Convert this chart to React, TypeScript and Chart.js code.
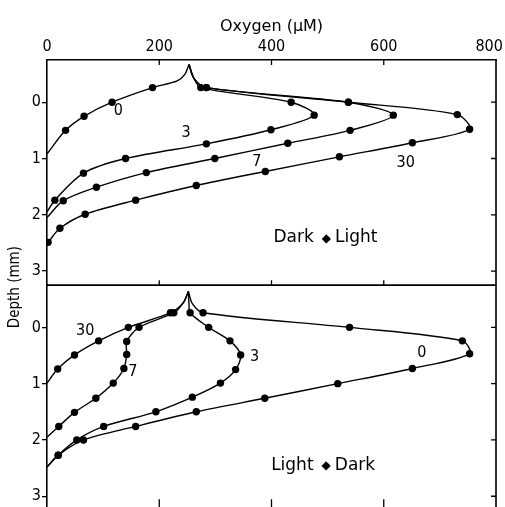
import { useEffect, useRef } from "react";
import { Chart, registerables } from "chart.js";

Chart.register(...registerables);

const NARROW = '"DejaVu Sans Condensed", "DejaVu Sans", sans-serif';
const WIDE = '"DejaVu Sans", sans-serif';

// Axis ticks
const oxygenTicks = [0, 200, 400, 600, 800];
const depthTicks = [0, 1, 2, 3];
const innerOxygenTicks = [200, 400, 600];

// Dark -> Light panel: oxygen (µM) vs depth (mm), minutes after switch
const dl0O2 = [253, 246, 232, 188, 116, 66, 33, 0];
const dl0Depth = [-0.67, -0.5, -0.38, -0.26, 0, 0.25, 0.5, 0.92];
const dl0Dot = [0, 0, 0, 1, 1, 1, 1, 0];

const dl3O2 = [253, 262, 274, 435, 476, 399, 284, 140, 65, 14, 0];
const dl3Depth = [-0.67, -0.42, -0.26, 0, 0.23, 0.49, 0.74, 1.0, 1.26, 1.74, 1.95];
const dl3Dot = [0, 0, 1, 1, 1, 1, 1, 1, 1, 1, 0];

const dl7O2 = [253, 262, 284, 537, 617, 540, 429, 299, 177, 88, 29, 0];
const dl7Depth = [-0.67, -0.42, -0.26, 0, 0.23, 0.5, 0.73, 1.0, 1.25, 1.51, 1.75, 2.05];
const dl7Dot = [0, 0, 1, 1, 1, 1, 1, 1, 1, 1, 1, 0];

const dl30O2 = [253, 262, 284, 537, 731, 753, 651, 521, 389, 266, 158, 68, 23, 2];
const dl30Depth = [-0.67, -0.42, -0.26, 0, 0.22, 0.48, 0.72, 0.97, 1.23, 1.48, 1.74, 1.99, 2.24, 2.49];
const dl30Dot = [0, 0, 1, 1, 1, 1, 1, 1, 1, 1, 1, 1, 1, 1];

// Light -> Dark panel
const ld0O2 = [252, 259, 278, 539, 740, 753, 651, 518, 388, 266, 158, 65, 20, 0];
const ld0Depth = [-0.64, -0.42, -0.26, 0, 0.24, 0.47, 0.73, 1.0, 1.26, 1.5, 1.76, 2.0, 2.27, 2.48];
const ld0Dot = [0, 0, 1, 1, 1, 1, 1, 1, 1, 1, 1, 1, 1, 0];

const ld3O2 = [252, 253, 255, 288, 326, 345, 336, 309, 259, 194, 101, 53, 20, 0];
const ld3Depth = [-0.64, -0.42, -0.26, 0, 0.24, 0.49, 0.75, 0.99, 1.24, 1.5, 1.76, 2.0, 2.27, 2.48];
const ld3Dot = [0, 0, 1, 1, 1, 1, 1, 1, 1, 1, 1, 1, 1, 0];

const ld7O2 = [252, 243, 226, 164, 142, 142, 137, 118, 87, 49, 21, 0];
const ld7Depth = [-0.64, -0.44, -0.26, 0, 0.25, 0.48, 0.73, 0.99, 1.26, 1.51, 1.76, 1.95];
const ld7Dot = [0, 0, 1, 1, 1, 1, 1, 1, 1, 1, 1, 0];

const ld30O2 = [252, 243, 220, 145, 92, 49, 19, 0];
const ld30Depth = [-0.64, -0.44, -0.26, 0, 0.24, 0.49, 0.74, 0.99];
const ld30Dot = [0, 0, 1, 1, 1, 1, 1, 0];

// Curve labels (minutes) placed in data coordinates
const dlLabels = ["0", "3", "7", "30"];
const dlLabelO2 = [127, 248, 374, 639];
const dlLabelDepth = [0.15, 0.55, 1.06, 1.08];
const ldLabels = ["30", "7", "3", "0"];
const ldLabelO2 = [68, 153, 370, 668];
const ldLabelDepth = [0.07, 0.79, 0.53, 0.45];

const panelCaptions = [
  { from: "Dark", to: "Light", o2: 496, depth: 2.41, axis: "yTop" },
  { from: "Light", to: "Dark", o2: 492, depth: 2.45, axis: "yBot" },
];

function series(o2: number[], depth: number[], dots: number[], axis: string) {
  return {
    data: o2.map((x, i) => ({ x, y: depth[i] })),
    yAxisID: axis,
    showLine: true,
    borderColor: "#000",
    borderWidth: 1.4,
    tension: 0.3,
    pointRadius: dots.map((d) => (d ? 3.7 : 0)),
    pointHoverRadius: 0,
    pointBackgroundColor: "#000",
    pointBorderWidth: 0,
  };
}

const framePlugin = {
  id: "frame",
  afterDraw(chart: any) {
    const { ctx, chartArea, scales } = chart;
    const x = scales.x;
    const yTop = scales.yTop;
    const yBot = scales.yBot;
    ctx.save();
    ctx.strokeStyle = "#000";
    ctx.lineWidth = 1.6;
    ctx.beginPath();
    // right edge, separator and bottom edge
    ctx.moveTo(chartArea.right, chartArea.top);
    ctx.lineTo(chartArea.right, chartArea.bottom);
    ctx.moveTo(chartArea.left, yTop.bottom);
    ctx.lineTo(chartArea.right, yTop.bottom);
    ctx.moveTo(chartArea.left, chartArea.bottom);
    ctx.lineTo(chartArea.right, chartArea.bottom);
    ctx.stroke();

    ctx.lineWidth = 1.3;
    ctx.beginPath();
    const t = 5;
    for (const v of innerOxygenTicks) {
      const px = x.getPixelForValue(v);
      ctx.moveTo(px, yTop.top);
      ctx.lineTo(px, yTop.top + t);
      ctx.moveTo(px, yTop.bottom);
      ctx.lineTo(px, yTop.bottom - t);
      ctx.moveTo(px, yBot.bottom);
      ctx.lineTo(px, yBot.bottom - 11);
    }
    for (const s of [yTop, yBot]) {
      for (const v of depthTicks) {
        const py = s.getPixelForValue(v);
        ctx.moveTo(chartArea.right, py);
        ctx.lineTo(chartArea.right - t, py);
      }
    }
    ctx.stroke();

    ctx.fillStyle = "#000";
    ctx.textAlign = "center";
    ctx.textBaseline = "middle";
    ctx.font = `16px ${NARROW}`;
    dlLabels.forEach((txt, i) => {
      ctx.fillText(txt, x.getPixelForValue(dlLabelO2[i]), yTop.getPixelForValue(dlLabelDepth[i]));
    });
    ldLabels.forEach((txt, i) => {
      ctx.fillText(txt, x.getPixelForValue(ldLabelO2[i]), yBot.getPixelForValue(ldLabelDepth[i]));
    });

    for (const c of panelCaptions) {
      const cx = x.getPixelForValue(c.o2);
      const cy = scales[c.axis].getPixelForValue(c.depth);
      ctx.font = `17px ${WIDE}`;
      const wa = ctx.measureText(c.from).width;
      const wb = ctx.measureText(c.to).width;
      ctx.font = `12px ${WIDE}`;
      const wd = ctx.measureText("◆").width;
      const gap1 = 8;
      const gap2 = 4;
      const total = wa + wb + wd + gap1 + gap2;
      let px = cx - total / 2;
      ctx.textAlign = "left";
      ctx.font = `17px ${WIDE}`;
      ctx.fillText(c.from, px, cy);
      px += wa + gap1;
      ctx.font = `12px ${WIDE}`;
      ctx.fillText("◆", px, cy + 1);
      px += wd + gap2;
      ctx.font = `17px ${WIDE}`;
      ctx.fillText(c.to, px, cy);
      ctx.textAlign = "center";
    }

    // shared depth title
    ctx.save();
    ctx.translate(15, yTop.bottom + 2);
    ctx.rotate(-Math.PI / 2);
    ctx.font = `15px ${NARROW}`;
    ctx.fillText("Depth (mm)", 0, 0);
    ctx.restore();
    ctx.restore();
  },
};

function depthAxis(weight: number) {
  return {
    type: "linear" as const,
    position: "left" as const,
    stack: "depth",
    stackWeight: weight,
    reverse: true,
    min: -0.75,
    max: 3.25,
    afterBuildTicks: (s: any) => {
      s.ticks = depthTicks.map((value) => ({ value }));
    },
    afterFit: (s: any) => {
      s.width = 47;
      s.paddingTop = 0;
      s.paddingBottom = 0;
    },
    ticks: { color: "#000", font: { family: NARROW, size: 16 }, padding: 1 },
    grid: { drawOnChartArea: false, drawTicks: true, tickLength: 5, color: "#000", lineWidth: 1.3 },
    border: { display: true, color: "#000", width: 1.6 },
  };
}

export default function App() {
  const ref = useRef<HTMLCanvasElement>(null);
  useEffect(() => {
    if (!ref.current) return;
    const chart = new Chart(ref.current, {
      type: "scatter",
      data: {
        datasets: [
          series(dl0O2, dl0Depth, dl0Dot, "yTop"),
          series(dl3O2, dl3Depth, dl3Dot, "yTop"),
          series(dl7O2, dl7Depth, dl7Dot, "yTop"),
          series(dl30O2, dl30Depth, dl30Dot, "yTop"),
          series(ld0O2, ld0Depth, ld0Dot, "yBot"),
          series(ld3O2, ld3Depth, ld3Dot, "yBot"),
          series(ld7O2, ld7Depth, ld7Dot, "yBot"),
          series(ld30O2, ld30Depth, ld30Dot, "yBot"),
        ] as any,
      },
      options: {
        responsive: false,
        animation: false,
        devicePixelRatio: 1,
        layout: { padding: { left: 0, right: 9, top: 0, bottom: 0 } },
        plugins: { legend: { display: false }, tooltip: { enabled: false } },
        scales: {
          x: {
            type: "linear",
            position: "top",
            min: 0,
            max: 800,
            afterBuildTicks: (s: any) => {
              s.ticks = oxygenTicks.map((value) => ({ value }));
            },
            afterFit: (s: any) => {
              s.height = 60;
              s.paddingLeft = 0;
              s.paddingRight = 0;
            },
            ticks: {
              color: "#000",
              font: { family: NARROW, size: 16 },
              padding: 4,
              // keep the last label inside the page edge
              callback: (v: any) => (v === 800 ? "800\u00a0\u00a0\u00a0" : String(v)),
            },
            grid: { display: false, drawTicks: false, tickLength: 0 },
            border: { display: true, color: "#000", width: 1.6 },
            title: {
              display: true,
              text: "Oxygen (µM)",
              color: "#000",
              font: { family: WIDE, size: 16 },
              padding: { top: 17, bottom: 0 },
            },
          },
          // stacked panels are laid out in reverse order of definition
          yBot: depthAxis(225),
          yTop: depthAxis(225),
        } as any,
      },
      plugins: [framePlugin],
    });
    return () => chart.destroy();
  }, []);
  return (
    <div style={{ position: "fixed", left: 0, top: 0, width: 505, height: 514 }}>
      <canvas ref={ref} width={505} height={514} />
    </div>
  );
}
